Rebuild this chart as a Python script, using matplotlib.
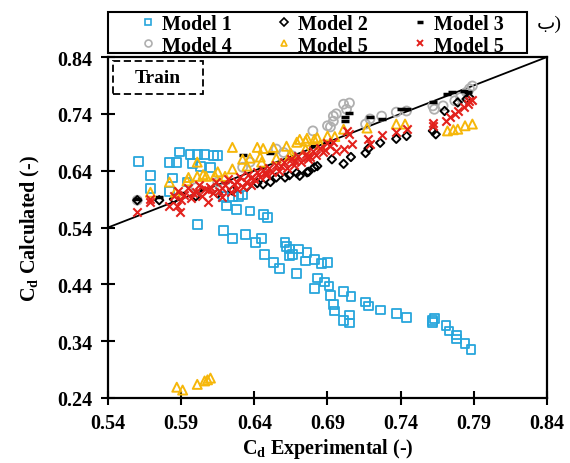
import matplotlib
matplotlib.use("Agg")
import matplotlib.pyplot as plt
from matplotlib.patches import Rectangle
from matplotlib.lines import Line2D

plt.rcParams['font.family'] = ['Liberation Serif', 'DejaVu Sans']
plt.rcParams['font.weight'] = 'bold'
plt.rcParams['mathtext.fontset'] = 'custom'
plt.rcParams['mathtext.rm'] = 'Liberation Serif:bold'
plt.rcParams['mathtext.default'] = 'rm'

# Model 1 (blue squares)
m1_x = [0.561, 0.569, 0.569, 0.582, 0.587, 0.589, 0.596, 0.601, 0.606, 0.612, 0.615, 0.598,
        0.603, 0.610, 0.584, 0.594, 0.582, 0.619, 0.625, 0.629, 0.632, 0.621, 0.628, 0.637,
        0.646, 0.649, 0.601, 0.619, 0.625, 0.634, 0.641, 0.645, 0.647, 0.653, 0.657, 0.661,
        0.662, 0.664, 0.666, 0.664, 0.670, 0.669, 0.676, 0.675, 0.681, 0.686, 0.690, 0.683,
        0.681, 0.688, 0.691, 0.692, 0.694, 0.695, 0.701, 0.706, 0.701, 0.705, 0.705, 0.716,
        0.718, 0.726, 0.737, 0.744, 0.762, 0.763, 0.762, 0.771, 0.773, 0.778, 0.778, 0.784,
        0.788]
m1_y = [0.656, 0.631, 0.609, 0.654, 0.655, 0.673, 0.669, 0.669, 0.669, 0.667, 0.667, 0.652,
        0.648, 0.646, 0.627, 0.620, 0.604, 0.595, 0.595, 0.595, 0.597, 0.578, 0.572, 0.569,
        0.563, 0.557, 0.545, 0.535, 0.521, 0.528, 0.514, 0.521, 0.493, 0.479, 0.468, 0.514,
        0.507, 0.502, 0.493, 0.490, 0.502, 0.459, 0.496, 0.481, 0.484, 0.476, 0.479, 0.451,
        0.433, 0.444, 0.437, 0.420, 0.405, 0.393, 0.428, 0.418, 0.376, 0.386, 0.372, 0.409,
        0.402, 0.395, 0.389, 0.382, 0.377, 0.380, 0.373, 0.368, 0.358, 0.351, 0.344, 0.336,
        0.326]

# Model 2 (black diamonds)
m2_x = [0.560, 0.575, 0.585, 0.600, 0.615, 0.625, 0.635, 0.642, 0.646, 0.651, 0.655, 0.661,
        0.664, 0.669, 0.677, 0.683, 0.671, 0.676, 0.681, 0.693, 0.701, 0.706, 0.716, 0.718,
        0.726, 0.737, 0.744, 0.762, 0.764, 0.770, 0.779, 0.785, 0.787]
m2_y = [0.588, 0.588, 0.590, 0.595, 0.600, 0.605, 0.612, 0.618, 0.616, 0.620, 0.628, 0.628,
        0.632, 0.636, 0.638, 0.648, 0.631, 0.637, 0.646, 0.660, 0.652, 0.664, 0.671, 0.679,
        0.689, 0.696, 0.701, 0.710, 0.704, 0.745, 0.760, 0.766, 0.769]

# Model 3 (black dashes)
m3_x = [0.560, 0.575, 0.590, 0.605, 0.620, 0.632, 0.651, 0.645, 0.665, 0.680, 0.690, 0.702,
        0.702, 0.705, 0.719, 0.727, 0.740, 0.744, 0.762, 0.772, 0.775, 0.786, 0.783]
m3_y = [0.590, 0.593, 0.600, 0.608, 0.620, 0.667, 0.671, 0.645, 0.662, 0.683, 0.690, 0.734,
        0.727, 0.741, 0.734, 0.731, 0.748, 0.748, 0.760, 0.775, 0.778, 0.778, 0.781]

# Model 4 (grey circles)
m4_x = [0.560, 0.600, 0.615, 0.632, 0.637, 0.655, 0.660, 0.666, 0.680, 0.690, 0.692, 0.694,
        0.694, 0.696, 0.701, 0.705, 0.703, 0.716, 0.719, 0.727, 0.737, 0.744, 0.762, 0.763,
        0.769, 0.777, 0.781, 0.785, 0.787, 0.789]
m4_y = [0.588, 0.610, 0.620, 0.646, 0.655, 0.678, 0.672, 0.666, 0.710, 0.719, 0.717, 0.727,
        0.736, 0.740, 0.757, 0.759, 0.748, 0.722, 0.731, 0.736, 0.743, 0.745, 0.754, 0.748,
        0.754, 0.763, 0.769, 0.778, 0.784, 0.789]

# Model 5 (gold triangles)
m5_x = [0.569, 0.582, 0.586, 0.594, 0.601, 0.601, 0.607, 0.613, 0.620, 0.625, 0.642, 0.646,
        0.653, 0.662, 0.669, 0.675, 0.681, 0.664, 0.644, 0.632, 0.637, 0.671, 0.676, 0.683,
        0.690, 0.701, 0.717, 0.737, 0.743, 0.772, 0.776, 0.779, 0.784, 0.789, 0.587, 0.591,
        0.601, 0.606, 0.608, 0.610, 0.595, 0.605, 0.615, 0.625, 0.635, 0.645, 0.655, 0.665,
        0.675, 0.685, 0.695]
m5_y = [0.602, 0.620, 0.602, 0.622, 0.655, 0.630, 0.630, 0.631, 0.630, 0.681, 0.681, 0.679,
        0.681, 0.683, 0.690, 0.692, 0.695, 0.666, 0.664, 0.660, 0.662, 0.695, 0.697, 0.698,
        0.701, 0.713, 0.715, 0.722, 0.722, 0.710, 0.712, 0.713, 0.719, 0.722, 0.259, 0.254,
        0.264, 0.270, 0.272, 0.275, 0.628, 0.633, 0.638, 0.643, 0.648, 0.655, 0.662, 0.670,
        0.678, 0.686, 0.700]

# Model 5 (red crosses)
m6_x = [0.560, 0.569, 0.569, 0.582, 0.589, 0.587, 0.585, 0.588, 0.590, 0.592, 0.595, 0.597,
        0.600, 0.602, 0.604, 0.606, 0.608, 0.610, 0.612, 0.614, 0.616, 0.618, 0.620, 0.622,
        0.624, 0.626, 0.628, 0.630, 0.632, 0.634, 0.636, 0.638, 0.640, 0.642, 0.644, 0.646,
        0.648, 0.650, 0.652, 0.655, 0.657, 0.660, 0.662, 0.665, 0.667, 0.670, 0.672, 0.675,
        0.677, 0.680, 0.682, 0.685, 0.687, 0.690, 0.692, 0.694, 0.696, 0.676, 0.701, 0.707,
        0.703, 0.705, 0.718, 0.719, 0.727, 0.737, 0.744, 0.762, 0.762, 0.771, 0.774, 0.777,
        0.779, 0.783, 0.786, 0.787, 0.789, 0.598, 0.608, 0.618, 0.628, 0.638, 0.648, 0.658,
        0.668, 0.678, 0.688]
m6_y = [0.567, 0.585, 0.590, 0.578, 0.567, 0.578, 0.595, 0.605, 0.588, 0.598, 0.610, 0.592,
        0.603, 0.615, 0.596, 0.607, 0.585, 0.612, 0.600, 0.620, 0.605, 0.593, 0.614, 0.625,
        0.603, 0.616, 0.608, 0.628, 0.612, 0.620, 0.633, 0.615, 0.625, 0.638, 0.628, 0.642,
        0.632, 0.645, 0.637, 0.650, 0.640, 0.655, 0.645, 0.660, 0.650, 0.665, 0.655, 0.670,
        0.660, 0.675, 0.668, 0.680, 0.672, 0.688, 0.683, 0.690, 0.675, 0.664, 0.678, 0.687,
        0.710, 0.705, 0.695, 0.687, 0.702, 0.708, 0.713, 0.724, 0.718, 0.727, 0.735, 0.740,
        0.745, 0.752, 0.757, 0.762, 0.765, 0.600, 0.606, 0.610, 0.620, 0.627, 0.636, 0.648,
        0.657, 0.664, 0.677]

x_ticks = [0.54, 0.59, 0.64, 0.69, 0.74, 0.79, 0.84]
y_ticks = [0.24, 0.34, 0.44, 0.54, 0.64, 0.74, 0.84]

blue = '#27A6DC'
gold = '#F6B70A'
red = '#E3211C'
grey = '#AFAFAF'

fig = plt.figure(figsize=(5.7, 4.64), dpi=100)
ax = fig.add_axes([108 / 570, 1 - 399 / 464, 439 / 570, 341 / 464])

ax.plot([0.54, 0.84], [0.54, 0.84], color='black', lw=1.3, zorder=1)

ax.scatter(m1_x, m1_y, marker='s', s=40, facecolors='none', edgecolors=blue, linewidths=1.3, zorder=2)
ax.scatter(m4_x, m4_y, marker='o', s=42, facecolors='none', edgecolors=grey, linewidths=1.3, zorder=2)
ax.scatter(m2_x, m2_y, marker='D', s=18, facecolors='none', edgecolors='black', linewidths=1.4, zorder=3)
ax.scatter(m3_x, m3_y, marker='_', s=30, color='black', linewidths=2.5, zorder=3)
ax.scatter(m5_x, m5_y, marker='^', s=42, facecolors='none', edgecolors=gold, linewidths=1.4, zorder=4)
ax.scatter(m6_x, m6_y, marker='x', s=36, color=red, linewidths=1.5, zorder=5)

ax.set_xlim(0.54, 0.84)
ax.set_ylim(0.24, 0.84)
ax.set_xticks(x_ticks)
ax.set_yticks(y_ticks)
ax.set_xticklabels([f'{v:.2f}' for v in x_ticks])
ax.set_yticklabels([f'{v:.2f}' for v in y_ticks])
ax.tick_params(direction='inout', length=10, width=1.5, labelsize=14.5, pad=6)
for sp in ax.spines.values():
    sp.set_linewidth(1.6)

ax.set_xlabel('C$_{d}$ Experimental (-)', fontsize=14.5, fontweight='bold', labelpad=2)
ax.set_ylabel('C$_{d}$ Calculated (-)', fontsize=14.5, fontweight='bold', labelpad=11)

# Train box
ax.add_patch(Rectangle((0.011, 0.891), 0.205, 0.097, transform=ax.transAxes, fill=False,
                       edgecolor='black', linestyle=(0, (4, 2)), lw=1.3, zorder=6))
ax.text(0.113, 0.941, 'Train', transform=ax.transAxes, ha='center', va='center',
        fontsize=14, fontweight='bold', zorder=7)

# legend frame drawn separately (wide box, tight rows)
fig.patches.append(Rectangle((108 / 570, 1 - 54 / 464), 419 / 570, 41 / 464,
                             transform=fig.transFigure, fill=False, edgecolor='black',
                             lw=1.5))

handles = [
    Line2D([], [], ls='none', marker='s', ms=5, mfc='none', mec=blue, mew=1.2),
    Line2D([], [], ls='none', marker='o', ms=5, mfc='none', mec=grey, mew=1.2),
    Line2D([], [], ls='none', marker='D', ms=4, mfc='none', mec='black', mew=1.2),
    Line2D([], [], ls='none', marker='^', ms=5, mfc='none', mec=gold, mew=1.2),
    Line2D([], [], ls='none', marker='_', ms=5, color='black', mew=2.5),
    Line2D([], [], ls='none', marker='x', ms=5, color=red, mew=1.4),
]
labels = ['Model 1', 'Model 4', 'Model 2', 'Model 5', 'Model 3', 'Model 5']
ax.legend(handles, labels, ncol=3, loc='center',
          bbox_to_anchor=((322 - 108) / 439, (399 - 36) / 341),
          fontsize=14.5, frameon=False, handlelength=0.8, handletextpad=0.3,
          labelspacing=0.05, borderpad=0.0, columnspacing=2.2)

fig.text(549 / 570, 1 - 24 / 464, 'ب)', ha='center', va='center', fontsize=14,
         fontweight='normal')

fig.savefig('out.png', dpi=100)
